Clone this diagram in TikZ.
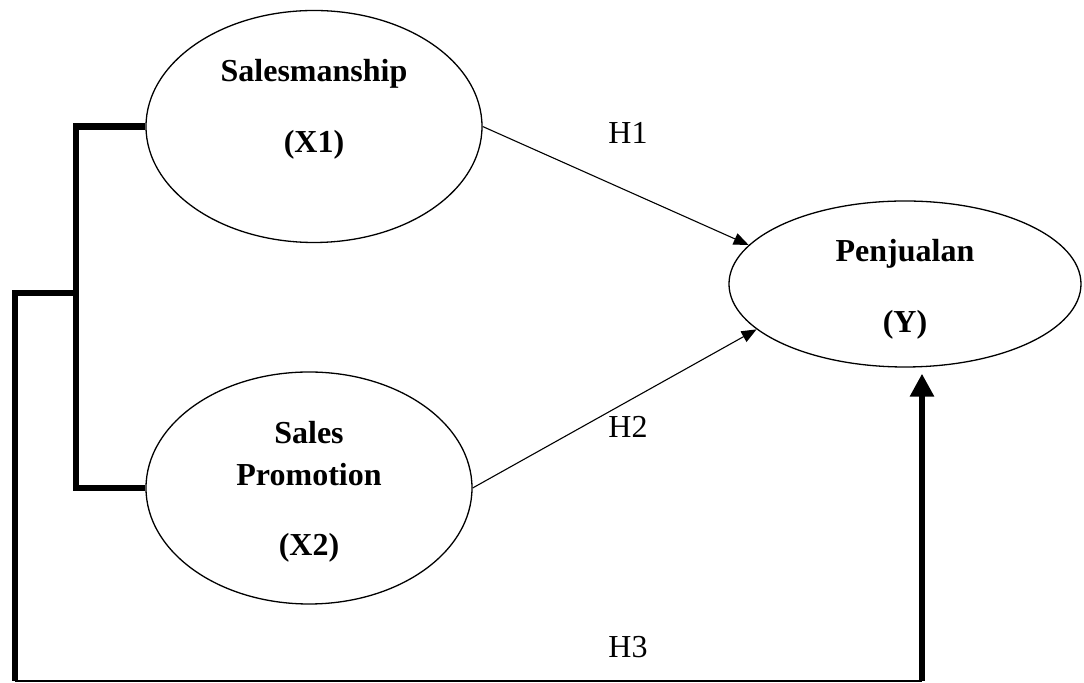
\documentclass[tikz,border=0pt]{standalone}
\usepackage{fontspec}
\setmainfont{Liberation Serif}
\usetikzlibrary{arrows.meta,shapes.geometric}
\begin{document}
\begin{tikzpicture}[x=0.5pt,y=-0.5pt,
	var/.style={draw,ellipse,line width=0.65pt,inner sep=0pt},
	lbl/.style={font=\fontsize{16}{19}\selectfont\bfseries,anchor=base},
	hyp/.style={font=\fontsize{16}{19}\selectfont},
	arr/.style={line width=0.55pt,-{Triangle[length=7.5pt,width=6pt]}},
	bold line/.style={line width=3.25pt}]
	\useasboundingbox (0,0) rectangle (1084,683);
	% ellipses
	\node[var,minimum width=168pt,minimum height=116pt] (x1) at (314,126.5){};
	\node[var,minimum width=163pt,minimum height=116pt] (x2) at (309,488){};
	\node[var,minimum width=176pt,minimum height=83pt] (y) at (905,284){};
	% texts
	\node[lbl] (x1a) at (314,82){Salesmanship};
	\node[lbl] (x1b) at (314,153){(X1)};
	\node[lbl] (x2a) at (309,444){Sales};
	\node[lbl] (x2b) at (309,486){Promotion};
	\node[lbl] (x2c) at (309,556){(X2)};
	\node[lbl] (ya) at (905,262){Penjualan};
	\node[lbl] (yb) at (905,333){(Y)};
	\node[hyp] (h1) at (628,133){H1};
	\node[hyp] (h2) at (628,427){H2};
	\node[hyp] (h3) at (628,647){H3};
	% connectors
	\coordinate (junction) at (76,293);
	\coordinate (corner) at (15,681);
	\coordinate (base) at (922,681);
	\draw[arr] (x1.east)--(y.166);
	\draw[arr] (x2.east)--(y.197);
	\draw[bold line] (x1.west) -| (junction) |- (x2.west);
	\draw[bold line] (junction) -| (corner);
	\draw[line width=0.75pt] (corner)--(base);
	\draw[bold line,-{Triangle[length=11.5pt,width=11.5pt]},shorten >=3pt] (base)--(base |- y.south);
\end{tikzpicture}
\end{document}
